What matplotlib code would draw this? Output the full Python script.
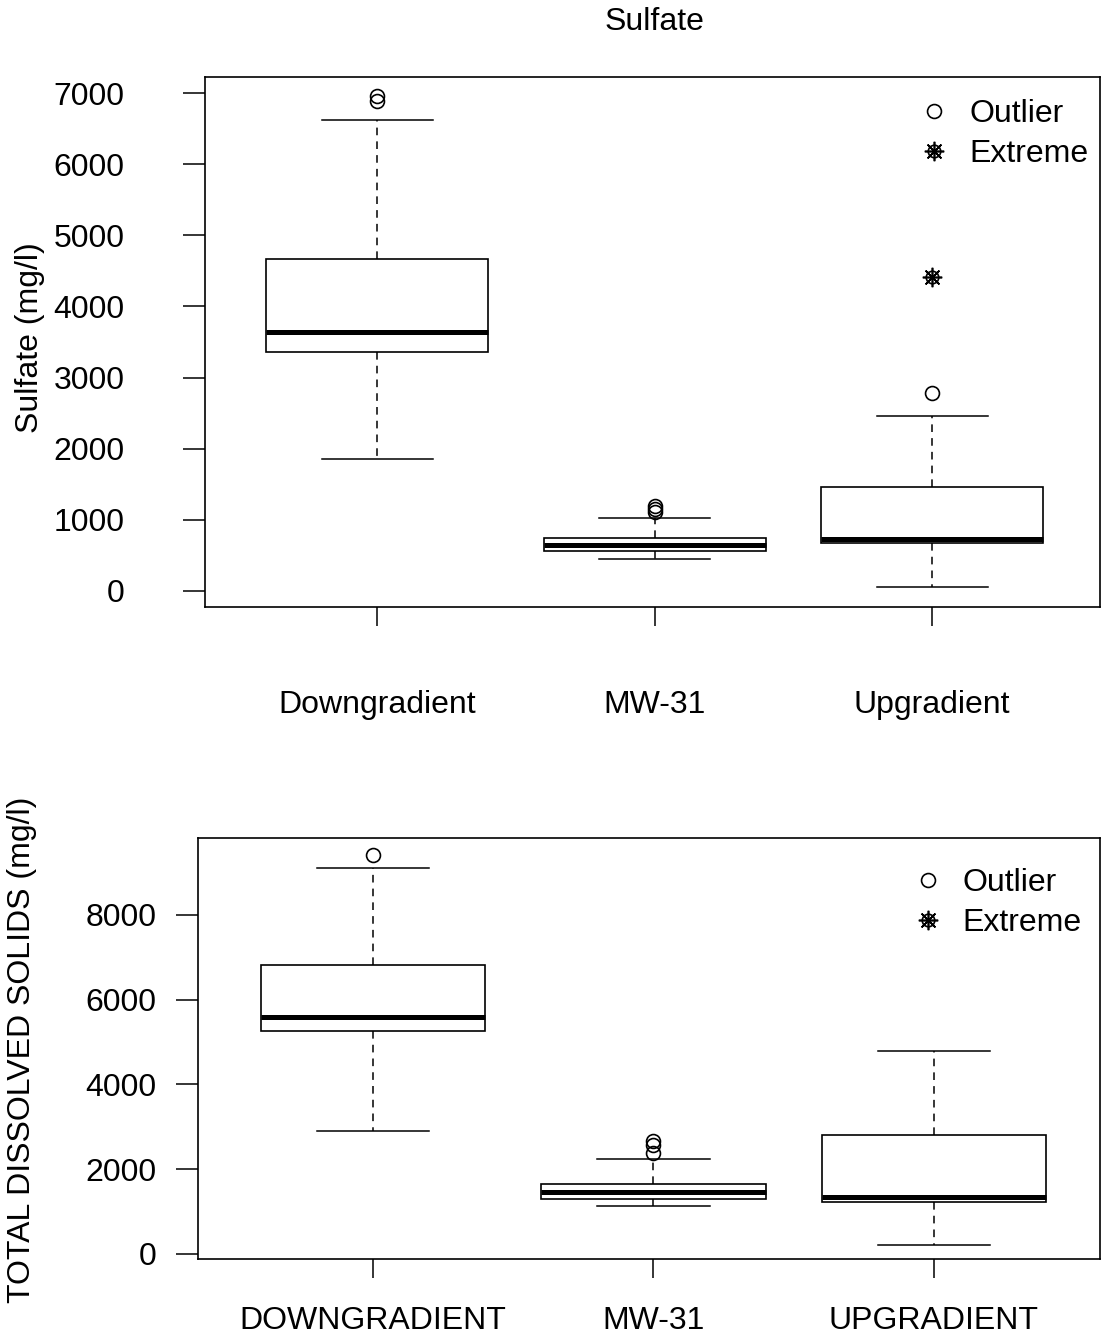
import matplotlib
matplotlib.use("Agg")
import matplotlib.pyplot as plt
from matplotlib.lines import Line2D

plt.rcParams['font.family'] = ['Liberation Sans', 'DejaVu Sans']

# ---------------- data ----------------
sulfate_groups = ["Downgradient", "MW-31", "Upgradient"]
sulfate_whislo = [1855, 450, 56]
sulfate_q1 = [3360, 562, 675]
sulfate_med = [3641, 647, 731]
sulfate_q3 = [4667, 745, 1462]
sulfate_whishi = [6621, 1026, 2460]
sulfate_outliers = [[6958, 6888], [1195, 1153, 1110], [2783]]
sulfate_extremes = [[], [], [4414]]
sulfate_yticks = [0, 1000, 2000, 3000, 4000, 5000, 6000, 7000]

tds_groups = ["DOWNGRADIENT", "MW-31", "UPGRADIENT"]
tds_whislo = [2903, 1133, 212]
tds_q1 = [5263, 1298, 1227]
tds_med = [5593, 1463, 1345]
tds_q3 = [6820, 1652, 2808]
tds_whishi = [9109, 2242, 4791]
tds_outliers = [[9416], [2667, 2572, 2383], []]
tds_extremes = [[], [], []]
tds_yticks = [0, 2000, 4000, 6000, 8000]

FS = 23
W, H = 1102, 1337
fig = plt.figure(figsize=(W / 100, H / 100), dpi=100)


def make_panel(rect, groups, lo, q1, med, q3, hi, outl, extr, yticks, ylim, xlim,
               xpad, ypad, leg_anchor):
    ax = fig.add_axes(rect)
    stats = []
    for i, g in enumerate(groups):
        stats.append(dict(label=g, whislo=lo[i], q1=q1[i], med=med[i], q3=q3[i],
                          whishi=hi[i], fliers=[]))
    pos = list(range(1, len(groups) + 1))
    ax.bxp(stats, positions=pos, widths=0.8, showfliers=False, patch_artist=True,
           boxprops=dict(facecolor='white', edgecolor='black', linewidth=1.2),
           medianprops=dict(color='black', linewidth=3.6, solid_capstyle='butt'),
           whiskerprops=dict(color='black', linewidth=1.1, linestyle=(0, (5, 4))),
           capprops=dict(color='black', linewidth=1.1),
           capwidths=0.4)
    for i in range(len(groups)):
        if outl[i]:
            ax.plot([pos[i]] * len(outl[i]), outl[i], linestyle='none', marker='o',
                    markersize=10, markerfacecolor='none', markeredgecolor='black',
                    markeredgewidth=1.2)
        if extr[i]:
            ax.plot([pos[i]] * len(extr[i]), extr[i], linestyle='none', marker='o',
                    markersize=9, markerfacecolor='none', markeredgecolor='black',
                    markeredgewidth=1.2)
            ax.plot([pos[i]] * len(extr[i]), extr[i], linestyle='none',
                    marker=(8, 2, 0), markersize=14, markeredgecolor='black',
                    markeredgewidth=1.2)
    ax.set_xlim(*xlim)
    ax.set_ylim(*ylim)
    ax.set_yticks(yticks)
    ax.set_yticklabels([str(v) for v in yticks])
    ax.set_xticks(pos)
    ax.set_xticklabels(groups)
    ax.tick_params(axis='y', direction='out', length=16, width=1.1, pad=ypad,
                   labelsize=FS, colors='black')
    ax.tick_params(axis='x', direction='out', length=14, width=1.1, pad=xpad,
                   labelsize=FS, colors='black')
    for s in ax.spines.values():
        s.set_linewidth(1.2)
        s.set_color('black')

    h_out = Line2D([], [], linestyle='none', marker='o', markersize=10,
                   markerfacecolor='none', markeredgecolor='black', markeredgewidth=1.2)
    h_ext1 = Line2D([], [], linestyle='none', marker='o', markersize=9,
                    markerfacecolor='none', markeredgecolor='black', markeredgewidth=1.2)
    h_ext2 = Line2D([], [], linestyle='none', marker=(8, 2, 0), markersize=14,
                    markeredgecolor='black', markeredgewidth=1.2)
    ax.legend([h_out, (h_ext1, h_ext2)], ["Outlier", "Extreme"], loc='upper right',
              bbox_to_anchor=leg_anchor, frameon=False, fontsize=FS, borderpad=0,
              handlelength=1.0, handletextpad=0.6, labelspacing=0.31,
              borderaxespad=0)
    return ax


ax1 = make_panel([205 / W, 1 - 607 / H, 895 / W, 530 / H], sulfate_groups,
                 sulfate_whislo, sulfate_q1, sulfate_med, sulfate_q3, sulfate_whishi,
                 sulfate_outliers, sulfate_extremes, sulfate_yticks,
                 (-225, 7225), (0.38, 3.605), xpad=46, ypad=42,
                 leg_anchor=(0.987, 0.9585))
ax2 = make_panel([198 / W, 1 - 1259 / H, 902 / W, 421 / H], tds_groups,
                 tds_whislo, tds_q1, tds_med, tds_q3, tds_whishi,
                 tds_outliers, tds_extremes, tds_yticks,
                 (-118, 9817), (0.376, 3.592), xpad=20, ypad=14,
                 leg_anchor=(0.980, 0.929))

fig.text(654 / W, 1 - 22 / H, "Sulfate", ha='center', va='center', fontsize=FS)
fig.text(30 / W, 1 - 338 / H, "Sulfate (mg/l)", ha='center', va='center',
         rotation=90, fontsize=FS)
fig.text(22 / W, 1 - 1050 / H, "TOTAL DISSOLVED SOLIDS (mg/l)", ha='center',
         va='center', rotation=90, fontsize=FS)

fig.savefig("out.png", dpi=100, facecolor='white')
